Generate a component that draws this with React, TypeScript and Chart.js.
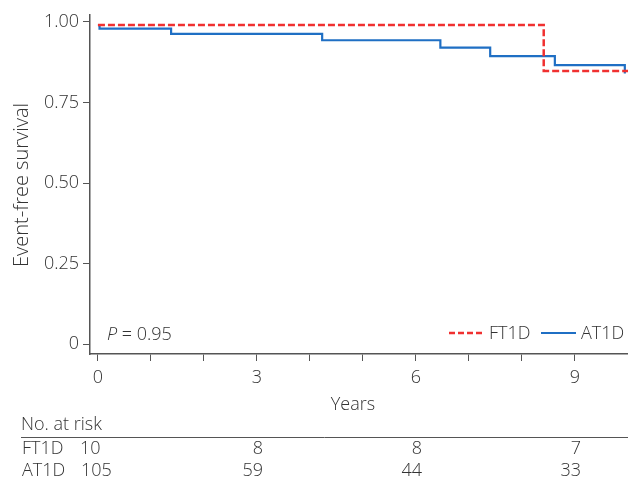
import React, { useEffect, useRef } from "react";
import { Chart, registerables } from "chart.js";
Chart.register(...registerables);

const ftTimes = [0, 8.41, 10];
const ftSurv = [0.99, 0.848, 0.848];
const atTimes = [0, 0.03, 1.38, 4.23, 6.46, 7.4, 8.62, 9.94];
const atSurv = [0.99, 0.979, 0.963, 0.943, 0.92, 0.894, 0.866, 0.84];
const xTickValues = [0, 1, 2, 3, 4, 5, 6, 7, 8, 9];
const xLabelValues = [0, 3, 6, 9];
const yTickValues = [0, 0.25, 0.5, 0.75, 1];
const yTickLabels = ["0", "0.25", "0.50", "0.75", "1.00"];
const riskYears = [0, 3, 6, 9];
const ftRisk = [10, 8, 8, 7];
const atRisk = [105, 59, 44, 33];
const pText = "= 0.95";

const FONT = '"Open Sans", "DejaVu Sans", sans-serif';
const TXT = "#333";
const RED = "#f03030";
const BLUE = "#1f6fc4";

const overlay = {
  id: "overlay",
  afterDraw(chart: any) {
    const ctx = chart.ctx as CanvasRenderingContext2D;
    const xs = chart.scales.x;
    ctx.save();
    ctx.fillStyle = TXT;
    ctx.textBaseline = "middle";
    // y title
    ctx.save();
    ctx.font = `300 20px ${FONT}`;
    ctx.translate(22, 185);
    ctx.rotate(-Math.PI / 2);
    ctx.textAlign = "center";
    ctx.fillText("Event-free survival", 0, 0);
    ctx.restore();
    ctx.font = `300 18px ${FONT}`;
    // x title
    ctx.textAlign = "center";
    ctx.fillText("Years", 353, 405);
    // P value
    ctx.textAlign = "left";
    ctx.font = `italic 300 18px ${FONT}`;
    ctx.fillText("P", 107, 335);
    const pw = ctx.measureText("P").width;
    ctx.font = `300 18px ${FONT}`;
    ctx.fillText(" " + pText, 107 + pw, 335);
    // legend
    ctx.lineWidth = 2.5;
    ctx.strokeStyle = RED;
    ctx.setLineDash([6, 3]);
    ctx.beginPath();
    ctx.moveTo(449, 333);
    ctx.lineTo(482, 333);
    ctx.stroke();
    ctx.setLineDash([]);
    ctx.strokeStyle = BLUE;
    ctx.lineWidth = 2.2;
    ctx.beginPath();
    ctx.moveTo(541, 333);
    ctx.lineTo(576, 333);
    ctx.stroke();
    ctx.fillText("FT1D", 489, 334);
    ctx.fillText("AT1D", 581, 334);
    // risk table
    ctx.fillText("No. at risk", 21, 425);
    ctx.strokeStyle = "#555";
    ctx.lineWidth = 1;
    ctx.beginPath();
    ctx.moveTo(21, 437.5);
    ctx.lineTo(628, 437.5);
    ctx.stroke();
    ctx.fillText("FT1D", 22, 449);
    ctx.fillText("AT1D", 22, 471);
    riskYears.forEach((yr, i) => {
      if (i === 0) {
        ctx.textAlign = "left";
        ctx.fillText(String(ftRisk[i]), 80, 449);
        ctx.fillText(String(atRisk[i]), 81, 471);
      } else {
        ctx.textAlign = "right";
        const x = xs.getPixelForValue(yr) + 6;
        ctx.fillText(String(ftRisk[i]), x, 449);
        ctx.fillText(String(atRisk[i]), x, 471);
      }
    });
    ctx.restore();
  },
};

export default function App() {
  const ref = useRef<HTMLCanvasElement>(null);
  useEffect(() => {
    const chart = new Chart(ref.current!, {
      type: "line",
      data: {
        datasets: [
          {
            label: "FT1D",
            data: ftTimes.map((t, i) => ({ x: t, y: ftSurv[i] })),
            borderColor: RED,
            borderWidth: 2.5,
            borderDash: [7, 3],
            stepped: true,
            pointRadius: 0,
            fill: false,
          },
          {
            label: "AT1D",
            data: atTimes.map((t, i) => ({ x: t, y: atSurv[i] })),
            borderColor: BLUE,
            borderWidth: 2.2,
            stepped: true,
            pointRadius: 0,
            fill: false,
          },
        ],
      },
      options: {
        responsive: false,
        animation: false,
        devicePixelRatio: 1,
        layout: { padding: { top: 12, left: 0, right: 0, bottom: 0 } },
        plugins: { legend: { display: false }, tooltip: { enabled: false } },
        scales: {
          x: {
            type: "linear",
            min: -0.15,
            max: 10,
            afterBuildTicks: (s: any) => {
              s.ticks = xTickValues.map((v) => ({ value: v }));
            },
            afterFit: (s: any) => {
              s.height = 127;
            },
            ticks: {
              autoSkip: false,
              maxRotation: 0,
              padding: 6,
              color: TXT,
              font: { family: FONT, size: 18, weight: "300" as any },
              callback: (v: any) => (xLabelValues.includes(v) ? String(v) : ""),
            },
            grid: { drawOnChartArea: false, drawTicks: true, tickLength: 7, color: "#555" },
            border: { color: "#555", width: 1.5 },
          },
          y: {
            type: "linear",
            min: -0.03,
            max: 1.022,
            afterBuildTicks: (s: any) => {
              s.ticks = yTickValues.map((v) => ({ value: v }));
            },
            afterFit: (s: any) => {
              s.width = 90;
            },
            ticks: {
              padding: 4,
              color: TXT,
              font: { family: FONT, size: 18, weight: "300" as any },
              callback: (v: any) => {
                const i = yTickValues.indexOf(v);
                return i >= 0 ? yTickLabels[i] : "";
              },
            },
            grid: { drawOnChartArea: false, drawTicks: true, tickLength: 7, color: "#555" },
            border: { color: "#555", width: 1.5 },
          },
        },
      },
      plugins: [overlay],
    });
    return () => chart.destroy();
  }, []);
  return (
    <div style={{ position: "absolute", left: 0, top: 0, width: 628, height: 481, background: "#fff" }}>
      <canvas ref={ref} width={628} height={481} />
    </div>
  );
}
